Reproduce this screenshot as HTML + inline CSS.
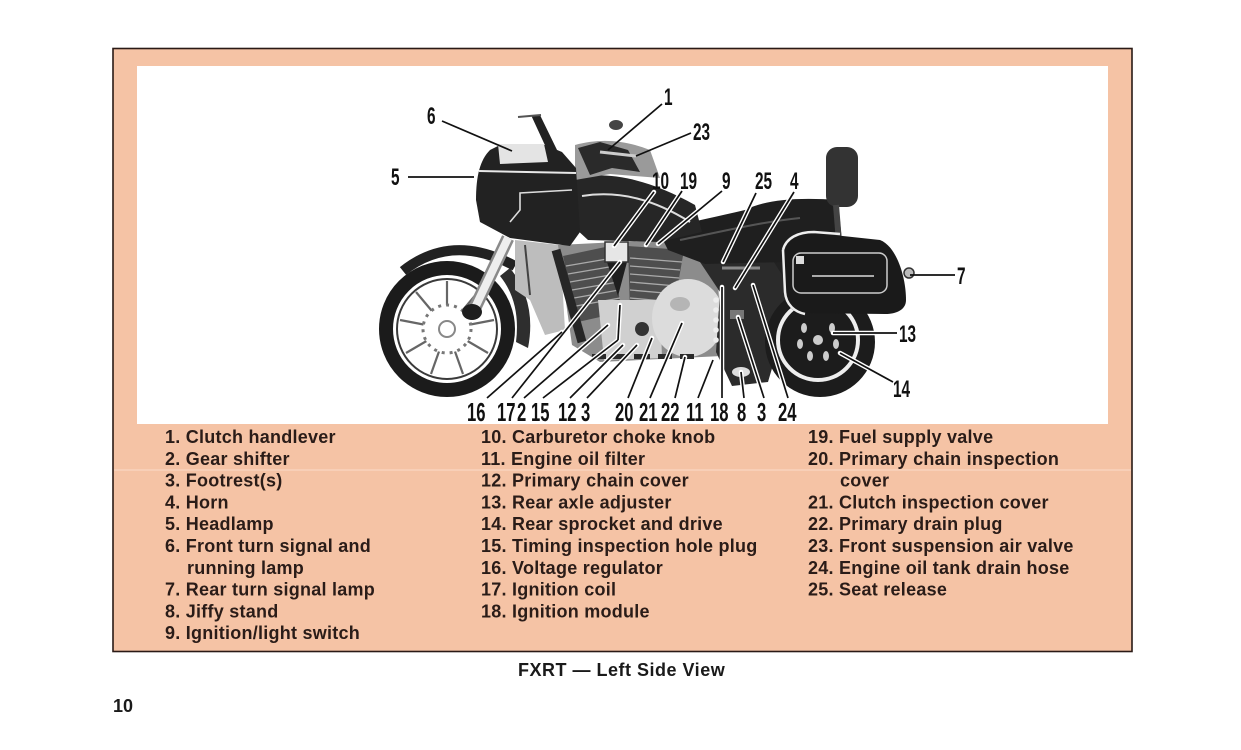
<!DOCTYPE html>
<html><head><meta charset="utf-8"><style>
html,body{margin:0;padding:0;background:#fff;}
body{width:1241px;height:750px;overflow:hidden;}
svg{display:block;}
.n{font-family:"Liberation Sans",sans-serif;font-weight:bold;fill:#111;}
.t{font-family:"Liberation Sans",sans-serif;font-weight:bold;font-size:18px;fill:#2a1c18;letter-spacing:0.25px;}
.c{font-family:"Liberation Sans",sans-serif;font-weight:bold;font-size:18px;fill:#1a1a1a;}
</style></head><body>
<svg width="1241" height="750" viewBox="0 0 1241 750" xmlns="http://www.w3.org/2000/svg">
<!-- frame -->
<rect x="113" y="48.5" width="1019" height="603" fill="#f5c3a5" stroke="#2a1a16" stroke-width="1.6"/>
<line x1="114" y1="470" x2="1131" y2="470" stroke="#f9d6c2" stroke-width="1.2"/>
<rect x="137" y="66" width="971" height="358" fill="#fff"/>

<!-- ===== MOTORCYCLE ===== -->
<!-- front wheel -->
<circle cx="447" cy="329" r="61" fill="#fff" stroke="#1b1b1b" stroke-width="14"/>
<circle cx="447" cy="329" r="50" fill="none" stroke="#3a3a3a" stroke-width="2"/>
<g stroke="#666" stroke-width="2.2" fill="none">
<line x1="447" y1="329" x2="447" y2="281"/>
<line x1="447" y1="329" x2="478" y2="292"/>
<line x1="447" y1="329" x2="494" y2="320"/>
<line x1="447" y1="329" x2="488" y2="353"/>
<line x1="447" y1="329" x2="463" y2="374"/>
<line x1="447" y1="329" x2="431" y2="374"/>
<line x1="447" y1="329" x2="406" y2="353"/>
<line x1="447" y1="329" x2="400" y2="320"/>
<line x1="447" y1="329" x2="416" y2="292"/>
</g>
<circle cx="447" cy="329" r="24" fill="#fff" stroke="#777" stroke-width="3" stroke-dasharray="3 5"/>
<circle cx="447" cy="329" r="8" fill="#fff" stroke="#888" stroke-width="2"/>
<path d="M510 268 Q537 302 528 348 L516 342 Q521 302 500 276 Z" fill="#2e2e2e"/>
<path d="M403 271 Q452 232 515 266" stroke="#222" stroke-width="10" fill="none"/>
<!-- fork -->
<line x1="508" y1="238" x2="472" y2="314" stroke="#8a8a8a" stroke-width="13"/>
<line x1="508" y1="238" x2="472" y2="314" stroke="#eee" stroke-width="8"/>
<ellipse cx="472" cy="312" rx="10" ry="8" fill="#1e1e1e"/>
<!-- misc under fairing -->
<path d="M515 240 L560 245 L565 330 L545 335 L530 300 L515 290 Z" fill="#bdbdbd"/>
<line x1="525" y1="245" x2="530" y2="295" stroke="#444" stroke-width="2"/>
<!-- engine -->
<path d="M558 245 L700 238 L718 280 L722 356 L600 362 L572 345 Z" fill="#8c8c8c"/>
<path d="M563 256 L610 246 L622 312 L578 322 Z" fill="#4e4e4e"/>
<path d="M628 246 L684 250 L672 318 L630 312 Z" fill="#4e4e4e"/>
<g stroke="#aaa" stroke-width="1.3">
<line x1="566" y1="266" x2="613" y2="258"/><line x1="568" y1="274" x2="615" y2="266"/>
<line x1="570" y1="282" x2="616" y2="274"/><line x1="572" y1="290" x2="618" y2="282"/>
<line x1="574" y1="298" x2="619" y2="290"/><line x1="576" y1="306" x2="620" y2="298"/>
<line x1="630" y1="258" x2="682" y2="262"/><line x1="630" y1="266" x2="680" y2="270"/>
<line x1="630" y1="274" x2="679" y2="278"/><line x1="630" y1="282" x2="677" y2="286"/>
<line x1="630" y1="290" x2="676" y2="294"/><line x1="630" y1="298" x2="674" y2="302"/>
</g>
<path d="M607 262 L627 262 L618 296 Z" fill="#1e1e1e"/>
<rect x="605" y="242" width="23" height="20" fill="#e6e6e6" stroke="#333" stroke-width="1.5"/>
<path d="M598 300 L660 300 L662 358 L604 360 Z" fill="#d0d0d0"/>
<ellipse cx="688" cy="318" rx="36" ry="39" fill="#dcdcdc"/>
<ellipse cx="680" cy="304" rx="10" ry="7" fill="#b5b5b5"/>
<circle cx="642" cy="329" r="7" fill="#333"/>
<line x1="556" y1="250" x2="582" y2="342" stroke="#262626" stroke-width="9"/>
<g fill="#2a2a2a">
<rect x="592" y="354" width="14" height="5"/><rect x="612" y="354" width="14" height="5"/>
<rect x="634" y="354" width="16" height="5"/><rect x="658" y="354" width="14" height="5"/>
<rect x="680" y="354" width="14" height="5"/>
</g>
<!-- dark rear frame area -->
<path d="M688 232 L798 240 L792 300 L768 382 L732 386 L716 352 L720 292 L700 262 Z" fill="#2b2b2b"/>
<g fill="#eee"><circle cx="716" cy="300" r="2.8"/><circle cx="716" cy="310" r="2.8"/><circle cx="716" cy="320" r="2.8"/><circle cx="716" cy="330" r="2.8"/><circle cx="716" cy="340" r="2.8"/></g>
<rect x="730" y="310" width="14" height="9" fill="#777"/>
<ellipse cx="741" cy="372" rx="9" ry="5" fill="#ddd"/>
<line x1="722" y1="268" x2="760" y2="268" stroke="#888" stroke-width="3"/>
<!-- rear wheel -->
<circle cx="820" cy="342" r="55" fill="#1c1c1c"/>
<circle cx="818" cy="340" r="40" fill="none" stroke="#eee" stroke-width="4"/>
<g fill="#ccc">
<circle cx="818" cy="340" r="5"/><ellipse cx="804" cy="328" rx="3" ry="5"/><ellipse cx="832" cy="328" rx="3" ry="5"/>
<ellipse cx="800" cy="344" rx="3" ry="5"/><ellipse cx="836" cy="344" rx="3" ry="5"/>
<ellipse cx="810" cy="356" rx="3" ry="5"/><ellipse cx="826" cy="356" rx="3" ry="5"/>
</g>
<path d="M760 240 L835 234 L842 292 L798 300 Z" fill="#222"/>
<!-- seat -->
<path d="M658 230 C690 222 720 216 745 210 C765 200 795 197 838 200 L842 242 L785 262 L705 264 L668 250 Z" fill="#1f1f1f"/>
<path d="M680 240 C720 232 760 222 800 218" stroke="#555" stroke-width="2" fill="none"/>
<rect x="826" y="147" width="32" height="60" rx="11" fill="#333"/>
<line x1="836" y1="205" x2="839" y2="242" stroke="#444" stroke-width="6"/>
<!-- tank -->
<path d="M570 178 C610 170 650 180 695 205 L702 232 L660 242 L588 240 L575 228 Z" fill="#262626"/>
<path d="M582 196 C620 190 655 200 690 222" stroke="#ddd" stroke-width="2" fill="none"/>
<path d="M575 145 C600 138 625 140 650 150 L660 178 L610 174 L575 180 Z" fill="#9a9a9a"/>
<path d="M578 148 L600 142 L628 150 L640 172 L612 168 L590 175 Z" fill="#2a2a2a"/>
<line x1="600" y1="152" x2="636" y2="156" stroke="#ccc" stroke-width="3"/>
<ellipse cx="616" cy="125" rx="7" ry="5" fill="#444"/>
<!-- fairing -->
<path d="M476 200 C476 176 480 160 490 150 L500 145 L545 145 L562 152 L576 168 L580 232 L570 246 L510 238 L480 222 Z" fill="#222"/>
<path d="M498 144 L544 144 L548 162 L500 164 Z" fill="#e4e4e4"/>
<path d="M531 115 L540 115 L558 152 L549 154 Z" fill="#222"/>
<line x1="518" y1="117" x2="541" y2="115" stroke="#555" stroke-width="2"/>
<line x1="479" y1="171" x2="576" y2="173" stroke="#e8e8e8" stroke-width="2"/>
<path d="M510 222 L520 210 L520 193 L572 190" stroke="#ddd" stroke-width="1.6" fill="none"/>
<!-- saddlebag -->
<path d="M785 247 C788 236 800 233 815 233 L880 240 C896 246 906 276 906 300 C906 310 896 314 885 314 L800 313 C790 311 785 302 785 290 Z" fill="#1a1a1a"/>
<path d="M783 250 C786 238 798 232 814 232 L840 234" stroke="#eee" stroke-width="2.5" fill="none"/>
<path d="M783 250 L785 292 C786 305 795 312 805 314" stroke="#eee" stroke-width="2.5" fill="none"/>
<rect x="793" y="253" width="94" height="40" rx="8" fill="none" stroke="#ccc" stroke-width="1.5"/>
<line x1="812" y1="276" x2="874" y2="276" stroke="#aaa" stroke-width="2"/>
<rect x="796" y="256" width="8" height="8" fill="#ddd"/>
<!-- rear turn signal -->
<circle cx="909" cy="273" r="5" fill="#bbb" stroke="#333" stroke-width="1.5"/>

<!-- ===== LEADER LINES ===== -->
<g stroke="#fff" stroke-width="4.5" fill="none" stroke-linecap="round">
<line x1="654" y1="192" x2="614" y2="246"/><line x1="682" y1="191" x2="646" y2="245"/>
<line x1="722" y1="191" x2="658" y2="244"/><line x1="756" y1="193" x2="723" y2="262"/>
<line x1="794" y1="192" x2="735" y2="288"/>
<line x1="487" y1="398" x2="562" y2="332"/><line x1="512" y1="398" x2="620" y2="262"/>
<line x1="524" y1="398" x2="608" y2="325"/><line x1="543" y1="398" x2="618" y2="340"/>
<line x1="618" y1="340" x2="620" y2="305"/>
<line x1="570" y1="398" x2="623" y2="345"/><line x1="587" y1="398" x2="637" y2="345"/>
<line x1="628" y1="398" x2="652" y2="338"/><line x1="650" y1="398" x2="682" y2="323"/>
<line x1="675" y1="398" x2="685" y2="357"/><line x1="698" y1="398" x2="713" y2="360"/>
<line x1="722" y1="398" x2="722" y2="287"/><line x1="744" y1="398" x2="741" y2="372"/>
<line x1="764" y1="398" x2="738" y2="317"/><line x1="788" y1="398" x2="753" y2="285"/>
<line x1="840" y1="353" x2="893" y2="382"/><line x1="833" y1="333" x2="897" y2="333"/>
</g>
<g stroke="#111" stroke-width="1.7" fill="none">
<line x1="662" y1="104" x2="608" y2="150"/>
<line x1="691" y1="133" x2="636" y2="156"/>
<line x1="442" y1="121" x2="512" y2="151"/>
<line x1="408" y1="177" x2="474" y2="177"/>
<line x1="654" y1="192" x2="614" y2="246"/><line x1="682" y1="191" x2="646" y2="245"/>
<line x1="722" y1="191" x2="658" y2="244"/><line x1="756" y1="193" x2="723" y2="262"/>
<line x1="794" y1="192" x2="735" y2="288"/>
<line x1="910" y1="275" x2="955" y2="275"/>
<line x1="833" y1="333" x2="897" y2="333"/>
<line x1="840" y1="353" x2="893" y2="382"/>
<line x1="487" y1="398" x2="562" y2="332"/><line x1="512" y1="398" x2="620" y2="262"/>
<line x1="524" y1="398" x2="608" y2="325"/><line x1="543" y1="398" x2="618" y2="340"/>
<line x1="618" y1="340" x2="620" y2="305"/>
<line x1="570" y1="398" x2="623" y2="345"/><line x1="587" y1="398" x2="637" y2="345"/>
<line x1="628" y1="398" x2="652" y2="338"/><line x1="650" y1="398" x2="682" y2="323"/>
<line x1="675" y1="398" x2="685" y2="357"/><line x1="698" y1="398" x2="713" y2="360"/>
<line x1="722" y1="398" x2="722" y2="287"/><line x1="744" y1="398" x2="741" y2="372"/>
<line x1="764" y1="398" x2="738" y2="317"/><line x1="788" y1="398" x2="753" y2="285"/>
</g>

<!-- ===== NUMBER LABELS ===== -->
<g class="n" font-size="24">
<text transform="translate(664,105) scale(0.64,1)">1</text>
<text transform="translate(693,140) scale(0.64,1)">23</text>
<text transform="translate(427,124) scale(0.64,1)">6</text>
<text transform="translate(391,185) scale(0.64,1)">5</text>
<text transform="translate(652,189) scale(0.64,1)">10</text>
<text transform="translate(680,189) scale(0.64,1)">19</text>
<text transform="translate(722,189) scale(0.64,1)">9</text>
<text transform="translate(755,189) scale(0.64,1)">25</text>
<text transform="translate(790,189) scale(0.64,1)">4</text>
<text transform="translate(957,284) scale(0.64,1)">7</text>
<text transform="translate(899,342) scale(0.64,1)">13</text>
<text transform="translate(893,397) scale(0.64,1)">14</text>
</g>
<g class="n" font-size="26">
<text transform="translate(467,421) scale(0.64,1)">16</text>
<text transform="translate(497,421) scale(0.64,1)">17</text>
<text transform="translate(517,421) scale(0.64,1)">2</text>
<text transform="translate(531,421) scale(0.64,1)">15</text>
<text transform="translate(558,421) scale(0.64,1)">12</text>
<text transform="translate(581,421) scale(0.64,1)">3</text>
<text transform="translate(615,421) scale(0.64,1)">20</text>
<text transform="translate(639,421) scale(0.64,1)">21</text>
<text transform="translate(661,421) scale(0.64,1)">22</text>
<text transform="translate(686,421) scale(0.64,1)">11</text>
<text transform="translate(710,421) scale(0.64,1)">18</text>
<text transform="translate(737,421) scale(0.64,1)">8</text>
<text transform="translate(757,421) scale(0.64,1)">3</text>
<text transform="translate(778,421) scale(0.64,1)">24</text>
</g>

<!-- ===== LEGEND ===== -->
<g class="t">
<text x="165" y="443">1. Clutch handlever</text>
<text x="165" y="465">2. Gear shifter</text>
<text x="165" y="486.5">3. Footrest(s)</text>
<text x="165" y="508.5">4. Horn</text>
<text x="165" y="530">5. Headlamp</text>
<text x="165" y="552">6. Front turn signal and</text>
<text x="187" y="574">running lamp</text>
<text x="165" y="595.5">7. Rear turn signal lamp</text>
<text x="165" y="617.5">8. Jiffy stand</text>
<text x="165" y="639">9. Ignition/light switch</text>

<text x="481" y="443">10. Carburetor choke knob</text>
<text x="481" y="465">11. Engine oil filter</text>
<text x="481" y="486.5">12. Primary chain cover</text>
<text x="481" y="508.5">13. Rear axle adjuster</text>
<text x="481" y="530">14. Rear sprocket and drive</text>
<text x="481" y="552">15. Timing inspection hole plug</text>
<text x="481" y="574">16. Voltage regulator</text>
<text x="481" y="595.5">17. Ignition coil</text>
<text x="481" y="617.5">18. Ignition module</text>

<text x="808" y="443">19. Fuel supply valve</text>
<text x="808" y="465">20. Primary chain inspection</text>
<text x="840" y="486.5">cover</text>
<text x="808" y="508.5">21. Clutch inspection cover</text>
<text x="808" y="530">22. Primary drain plug</text>
<text x="808" y="552">23. Front suspension air valve</text>
<text x="808" y="574">24. Engine oil tank drain hose</text>
<text x="808" y="595.5">25. Seat release</text>
</g>

<text class="c" x="518" y="676" letter-spacing="0.5">FXRT — Left Side View</text>
<text class="c" x="113" y="712">10</text>
</svg>
</body></html>
